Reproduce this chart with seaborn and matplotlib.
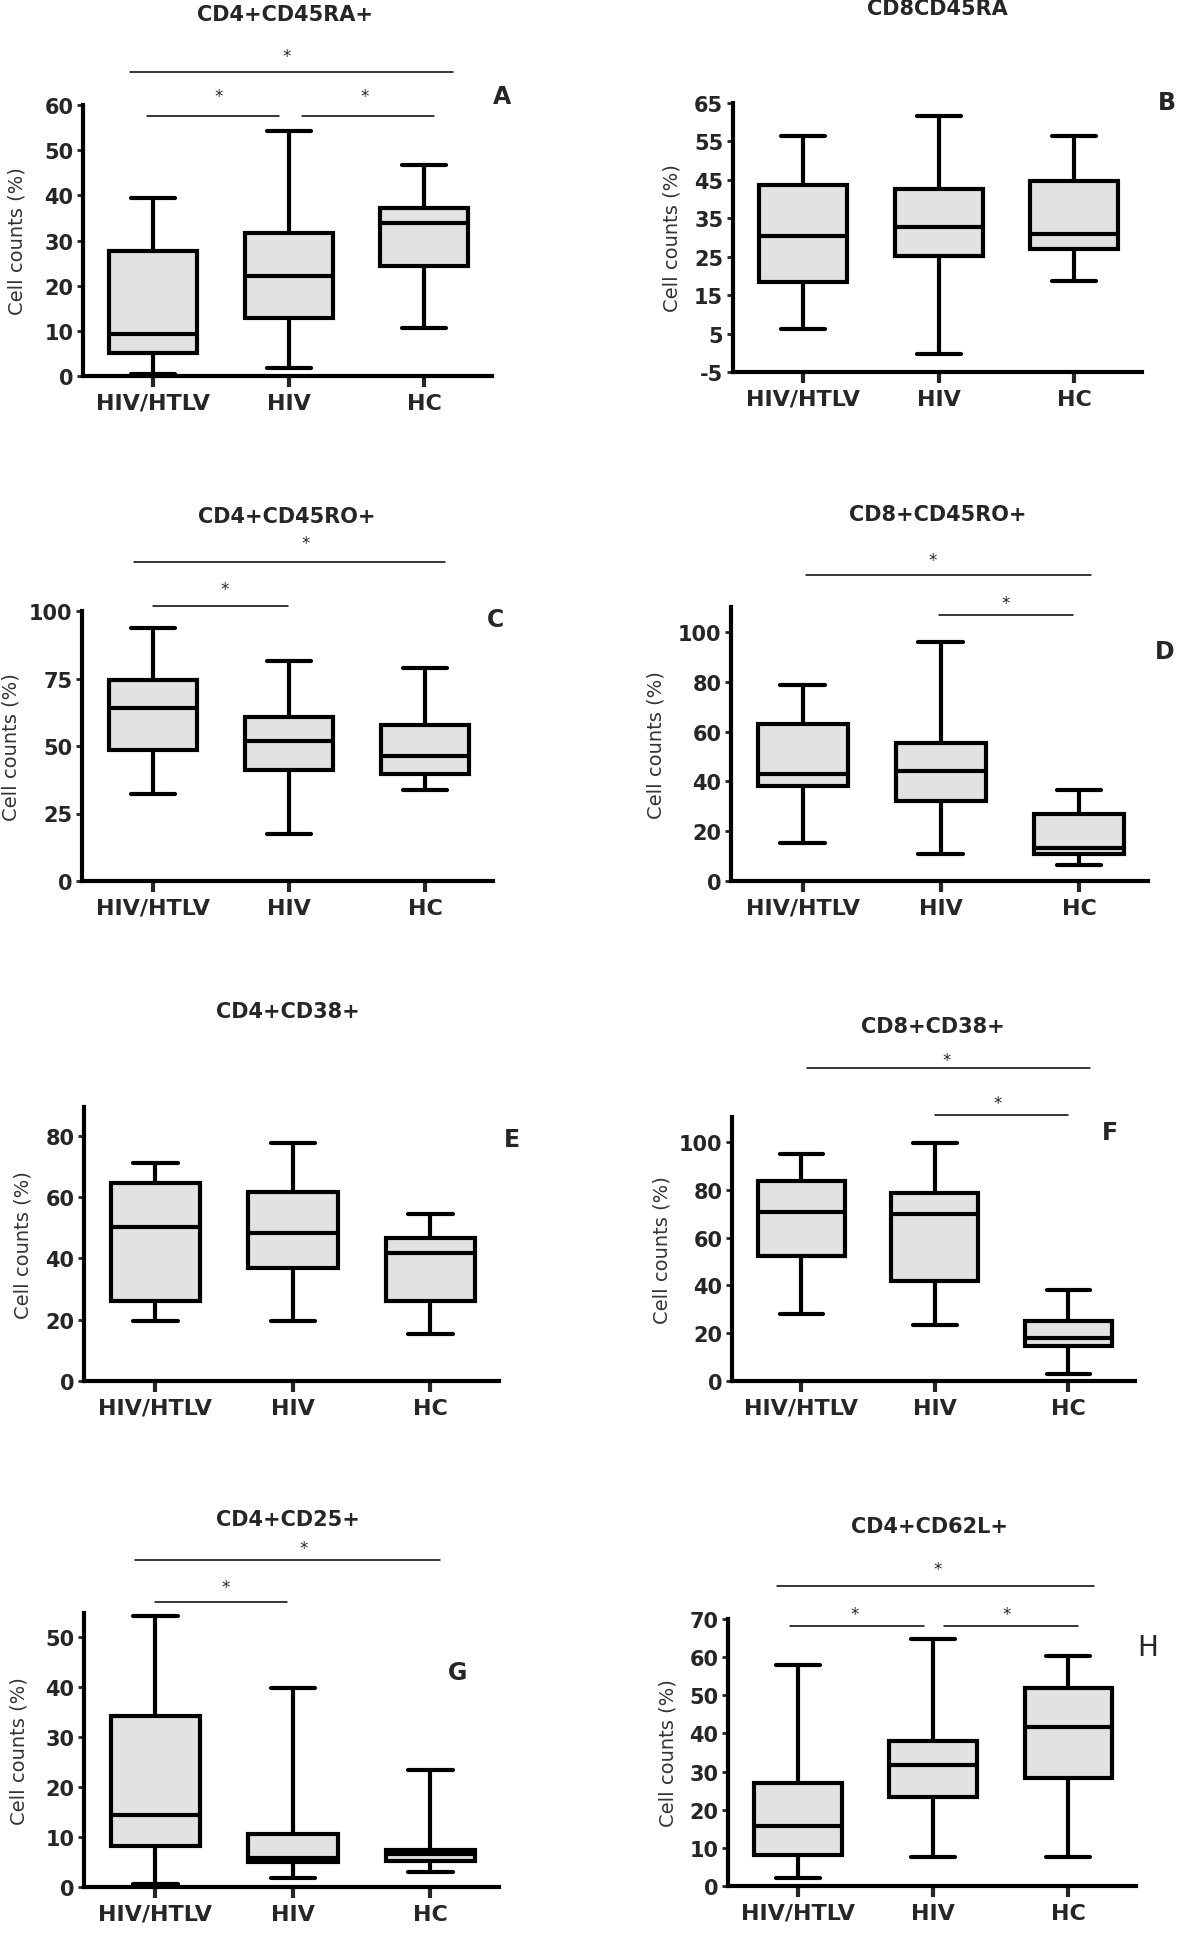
import numpy as np
import pandas as pd
import matplotlib
matplotlib.use('Agg')
import matplotlib.pyplot as plt
import seaborn as sns

sns.set_style('white')
plt.rcParams['font.family'] = ['DejaVu Sans']
plt.rcParams['axes.unicode_minus'] = False

groups = ['HIV/HTLV', 'HIV', 'HC']

# min, Q1, median, Q3, max for each group
cd4_cd45ra = [[0.4, 5.0, 9.4, 27.6, 39.3], [1.8, 12.8, 22.2, 31.6, 54.2], [10.7, 24.4, 33.9, 37.3, 46.8]]
cd8_cd45ra = [[6.1, 18.4, 30.4, 43.7, 56.5], [-0.2, 25.3, 32.8, 42.5, 61.6], [18.7, 26.9, 31.0, 44.8, 56.4]]
cd4_cd45ro = [[32.1, 48.5, 64.2, 74.3, 93.8], [17.3, 41.0, 51.9, 60.9, 81.5], [33.7, 39.5, 46.3, 57.7, 79.0]]
cd8_cd45ro = [[15.4, 38.2, 42.8, 63.2, 78.6], [10.7, 32.1, 44.2, 55.3, 96.1], [6.3, 10.7, 13.4, 27.0, 36.5]]
cd4_cd38 = [[19.6, 26.1, 50.1, 64.5, 71.0], [19.6, 37.0, 48.4, 61.7, 77.6], [15.2, 26.1, 41.7, 46.5, 54.4]]
cd8_cd38 = [[28.0, 52.2, 70.6, 83.9, 95.1], [23.4, 42.0, 69.9, 78.6, 99.7], [2.8, 14.7, 17.8, 25.2, 38.2]]
cd4_cd25 = [[0.7, 8.3, 14.5, 34.2, 54.2], [1.8, 5.1, 5.9, 10.7, 39.9], [3.0, 5.3, 6.7, 7.5, 23.5]]
cd4_cd62l = [[2.0, 8.1, 15.7, 26.9, 57.9], [7.6, 23.4, 31.7, 38.1, 64.7], [7.6, 28.3, 41.6, 51.8, 60.2]]

titles = ['CD4+CD45RA+', 'CD8CD45RA', 'CD4+CD45RO+', 'CD8+CD45RO+',
          'CD4+CD38+', 'CD8+CD38+', 'CD4+CD25+', 'CD4+CD62L+']
letters = ['A', 'B', 'C', 'D', 'E', 'F', 'G', 'H']
yticks = [np.arange(0, 61, 10), np.arange(-5, 66, 10), np.arange(0, 101, 25), np.arange(0, 101, 20),
          np.arange(0, 81, 20), np.arange(0, 101, 20), np.arange(0, 51, 10), np.arange(0, 71, 10)]

W, H = 1200, 1958

# layout in pixels: axes (left, top, right, bottom), y-limits, ylabel x, title xy, letter xy
panels = [
    dict(data=cd4_cd45ra, box=(83, 106, 492, 377), ylim=(0, 60), lx=17, t=(285, 15), l=(502, 97),
         sig=[(-0.17, 2.21, 67.2, 0.98, 70.8), (-0.05, 0.93, 57.5, 0.48, 62.0), (1.10, 2.07, 57.5, 1.56, 62.0)]),
    dict(data=cd8_cd45ra, box=(733, 104, 1142, 373), ylim=(-5, 65), lx=673, t=(937, 9), l=(1167, 103), sig=[]),
    dict(data=cd4_cd45ro, box=(82, 612, 493, 882), ylim=(0, 100), lx=12, t=(287, 517), l=(496, 620),
         sig=[(-0.14, 2.15, 118, 1.12, 125), (0.0, 0.99, 101.9, 0.53, 108)]),
    dict(data=cd8_cd45ro, box=(731, 608, 1148, 882), ylim=(0, 110), lx=656, t=(938, 515), l=(1165, 652),
         sig=[(0.02, 2.09, 122.7, 0.94, 129), (0.99, 1.96, 106.7, 1.47, 111.5)]),
    dict(data=cd4_cd38, box=(84, 1108, 499, 1382), ylim=(0, 89.4), lx=23, t=(288, 1012), l=(512, 1140), sig=[]),
    dict(data=cd8_cd38, box=(732, 1118, 1135, 1382), ylim=(0, 110.5), lx=662, t=(933, 1027), l=(1110, 1133),
         sig=[(0.04, 2.16, 131, 1.09, 134.5), (1.0, 2.0, 111.5, 1.47, 116.5)]),
    dict(data=cd4_cd25, box=(84, 1614, 499, 1888), ylim=(0, 54.8), lx=19, t=(288, 1520), l=(458, 1673),
         sig=[(-0.15, 2.07, 65.5, 1.08, 67.7), (0.0, 0.96, 57.1, 0.51, 60.0)]),
    dict(data=cd4_cd62l, box=(728, 1620, 1136, 1887), ylim=(0, 70), lx=669, t=(929, 1527), l=(1148, 1648),
         sig=[(-0.16, 2.19, 78.6, 1.03, 83.1), (-0.06, 0.93, 68.2, 0.42, 71.3), (1.08, 2.07, 68.2, 1.54, 71.3)]),
]

fig = plt.figure(figsize=(W / 100, H / 100), dpi=100)

for i, p in enumerate(panels):
    l, t, r, b = p['box']
    ax = fig.add_axes([l / W, 1 - b / H, (r - l) / W, (b - t) / H])
    df = pd.DataFrame({'group': np.repeat(groups, 5), 'value': np.concatenate(p['data'])})
    sns.boxplot(data=df, x='group', y='value', order=groups, whis=(0, 100), width=0.65,
                color='#e2e2e2', saturation=1, linecolor='black', linewidth=3, fliersize=0, ax=ax)
    ax.set_xlim(-0.52, 2.5)
    ax.set_ylim(*p['ylim'])
    ax.set_yticks(yticks[i])
    ax.set_xlabel('')
    ax.set_ylabel('Cell counts (%)', fontsize=14, color='#333333')
    ax.yaxis.set_label_coords((p['lx'] + 9 - l) / (r - l), 0.5)
    for s in ['top', 'right']:
        ax.spines[s].set_visible(False)
    for s in ['left', 'bottom']:
        ax.spines[s].set_linewidth(3)
        ax.spines[s].set_color('black')
    ax.tick_params(axis='x', length=8, width=3, pad=4, labelsize=16, bottom=True)
    ax.tick_params(axis='y', length=4, width=2, pad=3, labelsize=15, left=True)
    for lab in ax.get_xticklabels() + ax.get_yticklabels():
        lab.set_fontweight('bold')

    for x0, x1, y, sx, sy in p['sig']:
        ax.plot([x0, x1], [y, y], color='black', lw=1.1, clip_on=False)
        ax.text(sx, sy, '*', ha='center', va='center', fontsize=12, clip_on=False)

    fig.text(p['t'][0] / W, 1 - p['t'][1] / H, titles[i], ha='center', va='center',
             fontsize=15, fontweight='bold')
    fig.text(p['l'][0] / W, 1 - p['l'][1] / H, letters[i], ha='center', va='center',
             fontsize=20 if letters[i] == 'H' else 17,
             fontweight='normal' if letters[i] == 'H' else 'bold')

plt.savefig('out.png', dpi=100, facecolor='white')
